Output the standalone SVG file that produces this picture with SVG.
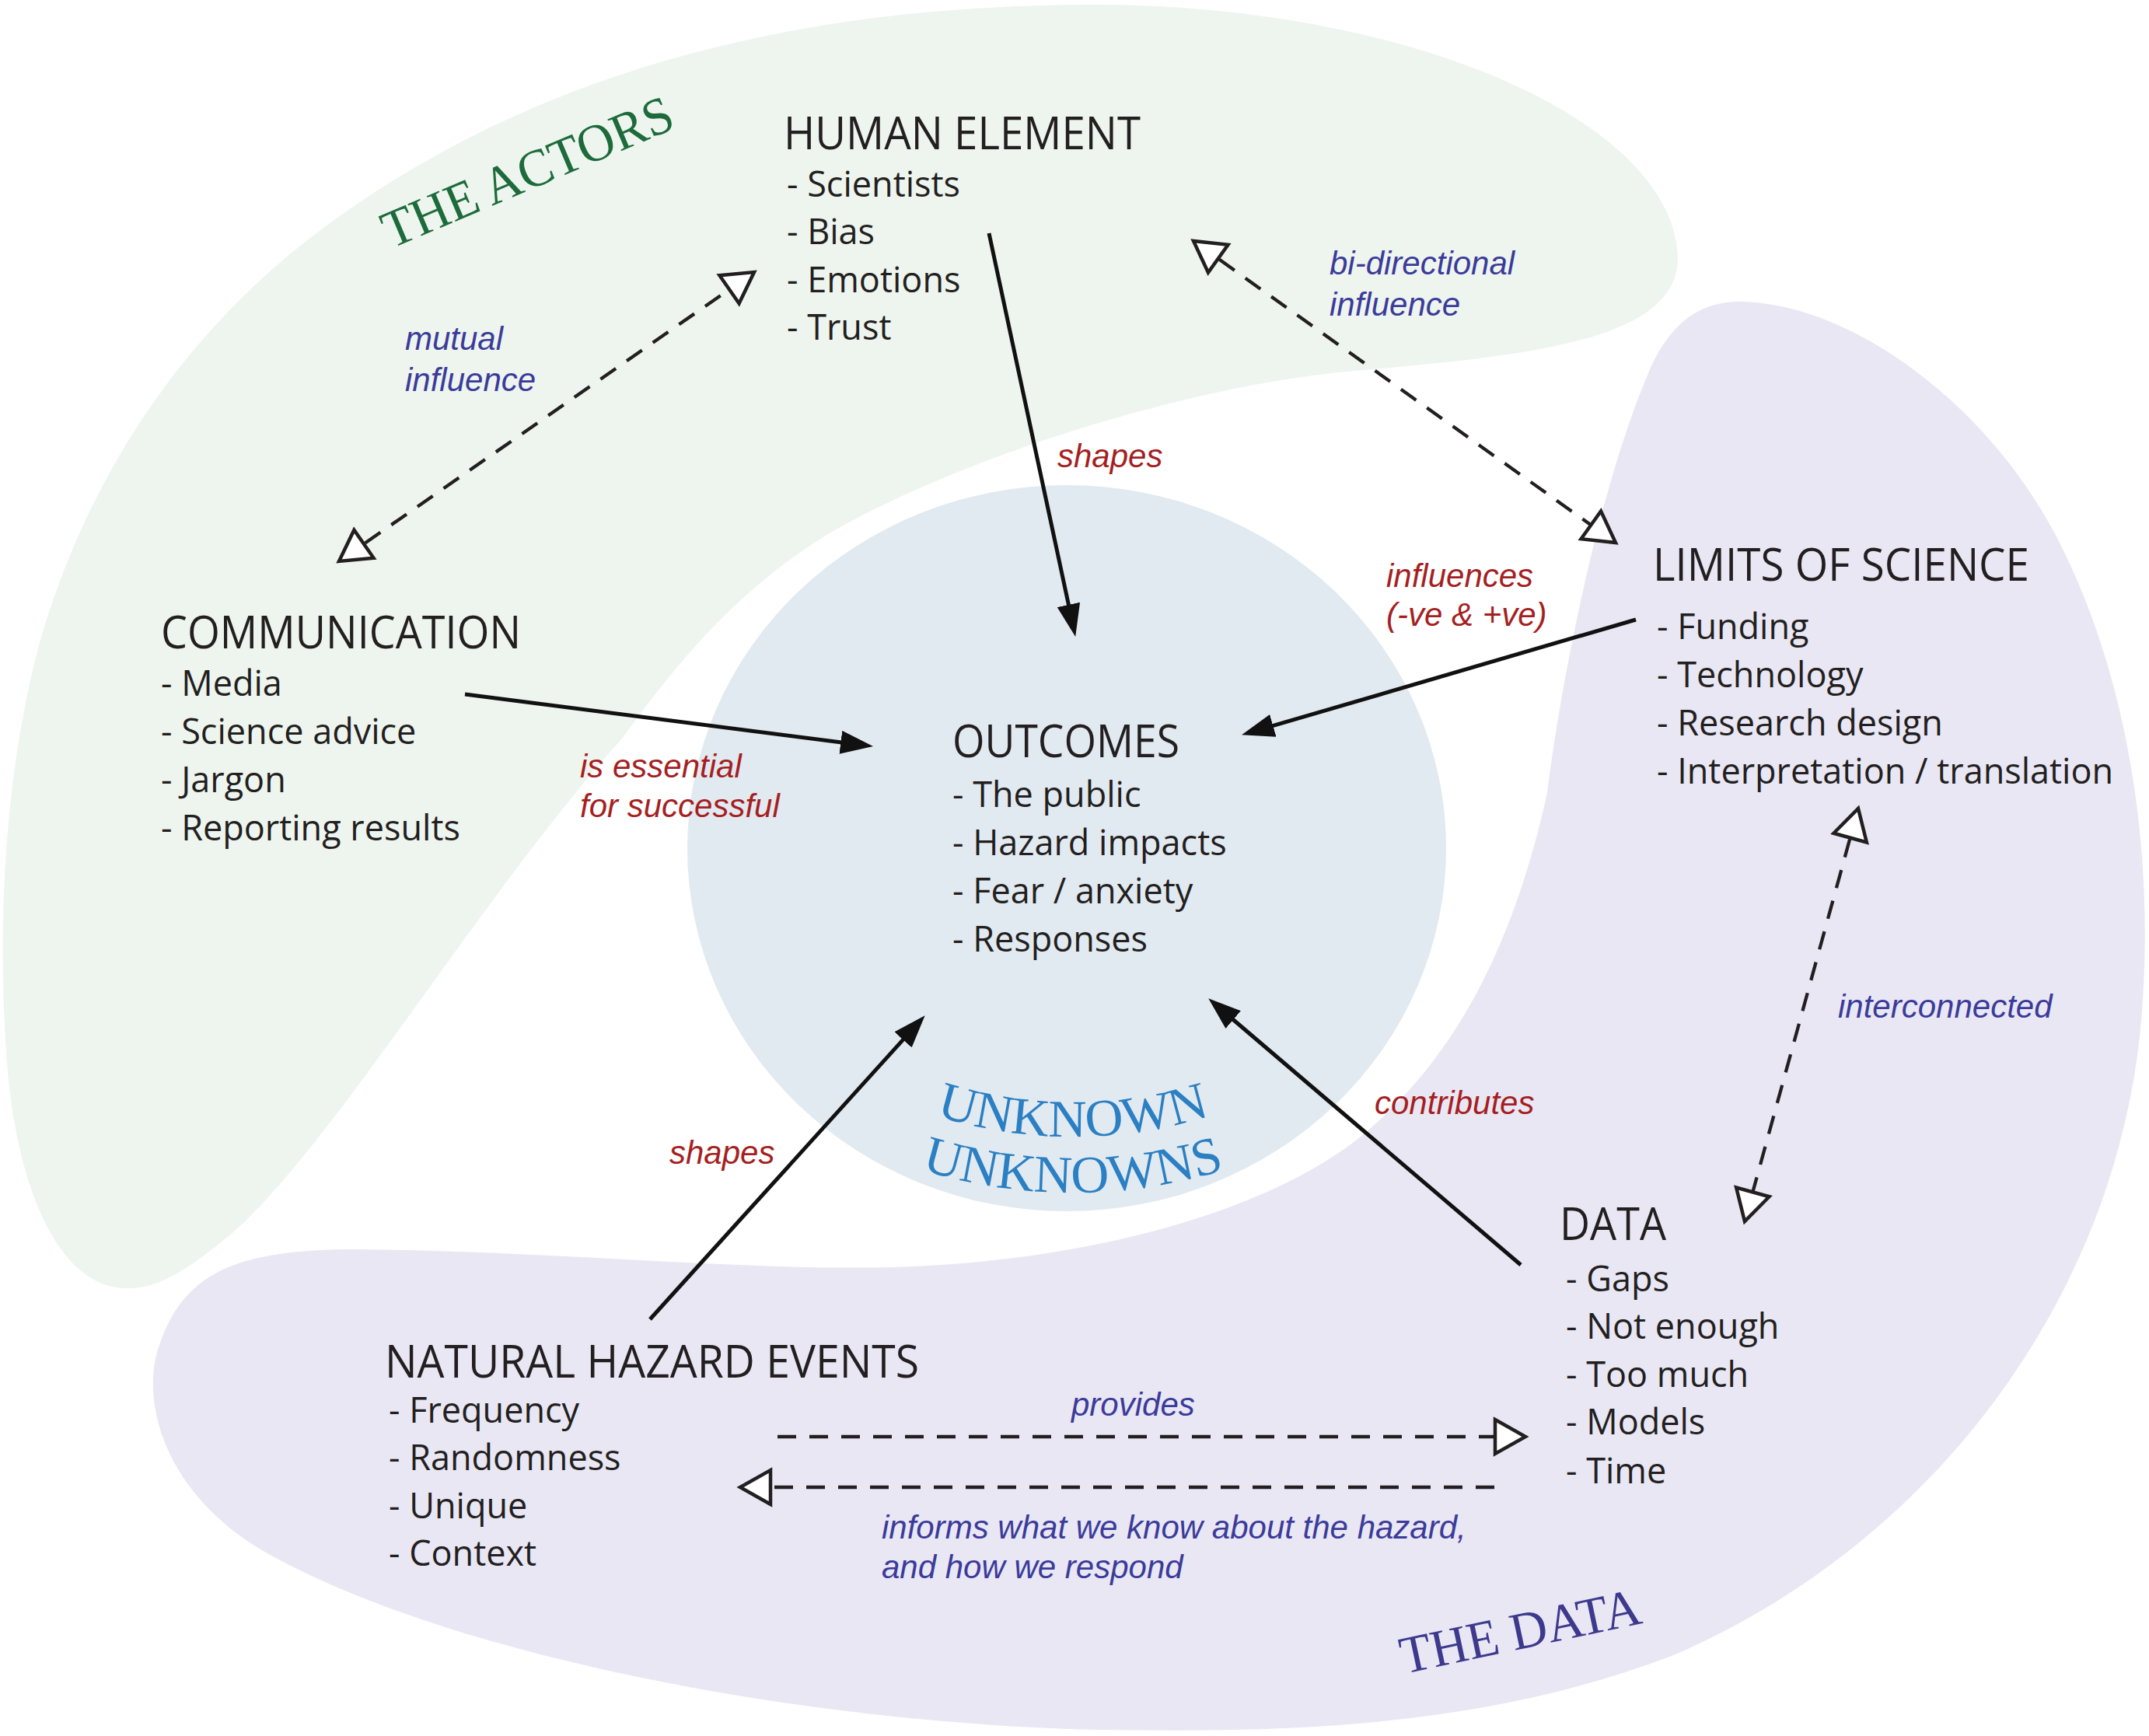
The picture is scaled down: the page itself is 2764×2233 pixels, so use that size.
<svg xmlns="http://www.w3.org/2000/svg" width="2764" height="2233" viewBox="0 0 2764 2233">
<defs>
<style>
.hd{font-family:"Open Sans","Liberation Sans",sans-serif;font-size:58px;fill:#231f20}
.it{font-family:"Open Sans","Liberation Sans",sans-serif;font-size:45px;fill:#231f20}
.lr{font-family:"Liberation Sans",Arial,sans-serif;font-style:italic;font-size:42px;fill:#a51f22}
.lb{font-family:"Liberation Sans",Arial,sans-serif;font-style:italic;font-size:42px;fill:#3b3b9a}
.ttl{font-family:"Liberation Serif","Times New Roman",serif;font-size:68px}
.solid{stroke:#111;stroke-width:5;fill:none;marker-end:url(#ah)}
.dash{stroke:#231f20;stroke-width:4.3;fill:none;stroke-dasharray:24 17}
.both{marker-start:url(#oh);marker-end:url(#oh)}
.one{marker-end:url(#oh)}
</style>
<marker id="ah" markerUnits="userSpaceOnUse" viewBox="0 0 42 30" markerWidth="42" markerHeight="30" refX="31" refY="15" orient="auto"><path d="M0,0 L42,15 L0,30 Z" fill="#111"/></marker>
<marker id="oh" markerUnits="userSpaceOnUse" viewBox="-5 -5 52 54" markerWidth="52" markerHeight="54" refX="39" refY="22" orient="auto-start-reverse"><path d="M0,0 L39,22 L0,44 Z" fill="#fff" stroke="#231f20" stroke-width="4.5"/></marker>
<path id="arcU1" d="M790,872 A590,590 0 0 0 1970,872"/>
<path id="arcU2" d="M718,872 A662,662 0 0 0 2042,872"/>
</defs>
<rect width="2764" height="2233" fill="#fff"/>

<g id="the-actors">
<path d="M1400,6 C1800,4 2150,150 2158,330 C2160,440 1960,458 1733,478 C1520,498 1230,590 1060,690 C950,760 880,840 800,950 C620,1150 430,1470 300,1585 C240,1635 200,1660 160,1657 C80,1655 25,1540 10,1380 C-5,1200 5,1000 50,830 C110,620 230,430 420,290 C680,100 1000,8 1400,6 Z" fill="#eef5ef"/>
<text class="ttl" fill="#1d6b3b" transform="translate(503,320) rotate(-23)" textLength="400" lengthAdjust="spacingAndGlyphs">THE ACTORS</text>
</g>

<g id="the-data">
<path d="M2239,388 C2380,390 2560,520 2650,700 C2740,880 2770,1100 2755,1300 C2730,1650 2500,1980 2150,2130 C1900,2225 1650,2228 1410,2225 C1000,2215 550,2120 330,1990 C210,1915 180,1800 205,1730 C235,1640 300,1608 450,1607 C700,1608 950,1635 1150,1630 C1400,1622 1620,1560 1740,1470 C1880,1360 1950,1200 1990,1020 C2010,860 2060,620 2120,480 C2150,410 2190,388 2239,388 Z" fill="#e9e7f4"/>
<text class="ttl" fill="#3d3a8e" font-size="64" transform="translate(1806,2153) rotate(-12)" textLength="315" lengthAdjust="spacingAndGlyphs">THE DATA</text>
</g>

<g id="outcomes">
<ellipse cx="1372" cy="1091" rx="488" ry="467" fill="#e2eaf1"/>
<text class="hd" x="1225" y="974" textLength="292" lengthAdjust="spacingAndGlyphs">OUTCOMES</text>
<text class="it" x="1225" y="1038">- The public</text>
<text class="it" x="1225" y="1100">- Hazard impacts</text>
<text class="it" x="1225" y="1162">- Fear / anxiety</text>
<text class="it" x="1225" y="1224">- Responses</text>
<text class="ttl" font-size="65" fill="#2b7fc3"><textPath href="#arcU1" startOffset="50%" text-anchor="middle">UNKNOWN</textPath></text>
<text class="ttl" font-size="65" fill="#2b7fc3"><textPath href="#arcU2" startOffset="50%" text-anchor="middle">UNKNOWNS</textPath></text>
</g>

<g id="connectors">
<line class="solid" x1="1272" y1="300" x2="1380.9" y2="808.2"/>
<line class="solid" x1="598" y1="893" x2="1112.1" y2="958.7"/>
<line class="solid" x1="2104" y1="797" x2="1607.6" y2="942.2"/>
<line class="solid" x1="1956" y1="1627" x2="1562.6" y2="1291.5"/>
<line class="solid" x1="836" y1="1697" x2="1182.3" y2="1314.4"/>
<line class="dash both" x1="436" y1="722" x2="970" y2="350"/>
<line class="dash both" x1="1535" y1="310" x2="2078" y2="698"/>
<line class="dash both" x1="2390" y1="1040" x2="2244" y2="1571"/>
<line class="dash one" x1="1000" y1="1848" x2="1962" y2="1848"/>
<line class="dash one" x1="1922" y1="1913" x2="952" y2="1913"/>
<text class="lr" x="1360" y="601">shapes</text>
<text class="lr" x="746" y="1000">is essential</text>
<text class="lr" x="746" y="1051">for successful</text>
<text class="lr" x="1783" y="755">influences</text>
<text class="lr" x="1783" y="805">(-ve &amp; +ve)</text>
<text class="lr" x="1768" y="1433">contributes</text>
<text class="lr" x="861" y="1497">shapes</text>
<text class="lb" x="521" y="450">mutual</text>
<text class="lb" x="521" y="503">influence</text>
<text class="lb" x="1710" y="353">bi-directional</text>
<text class="lb" x="1710" y="406">influence</text>
<text class="lb" x="2364" y="1309">interconnected</text>
<text class="lb" x="1378" y="1821">provides</text>
<text class="lb" x="1134" y="1979">informs what we know about the hazard,</text>
<text class="lb" x="1134" y="2030">and how we respond</text>
</g>

<g id="human-element">
<text class="hd" x="1008" y="192" textLength="459" lengthAdjust="spacingAndGlyphs">HUMAN ELEMENT</text>
<text class="it" x="1012" y="253">- Scientists</text>
<text class="it" x="1012" y="314">- Bias</text>
<text class="it" x="1012" y="376">- Emotions</text>
<text class="it" x="1012" y="437">- Trust</text>
</g>

<g id="communication">
<text class="hd" x="207" y="834" textLength="463" lengthAdjust="spacingAndGlyphs">COMMUNICATION</text>
<text class="it" x="207" y="895">- Media</text>
<text class="it" x="207" y="957">- Science advice</text>
<text class="it" x="207" y="1019">- Jargon</text>
<text class="it" x="207" y="1081">- Reporting results</text>
</g>

<g id="limits-of-science">
<text class="hd" x="2126" y="747" textLength="484" lengthAdjust="spacingAndGlyphs">LIMITS OF SCIENCE</text>
<text class="it" x="2131" y="822">- Funding</text>
<text class="it" x="2131" y="884">- Technology</text>
<text class="it" x="2131" y="946">- Research design</text>
<text class="it" x="2131" y="1008">- Interpretation / translation</text>
</g>

<g id="data">
<text class="hd" x="2006" y="1595" textLength="137" lengthAdjust="spacingAndGlyphs">DATA</text>
<text class="it" x="2014" y="1661">- Gaps</text>
<text class="it" x="2014" y="1722">- Not enough</text>
<text class="it" x="2014" y="1784">- Too much</text>
<text class="it" x="2014" y="1845">- Models</text>
<text class="it" x="2014" y="1908">- Time</text>
</g>

<g id="natural-hazard-events">
<text class="hd" x="495" y="1772" textLength="687" lengthAdjust="spacingAndGlyphs">NATURAL HAZARD EVENTS</text>
<text class="it" x="500" y="1830">- Frequency</text>
<text class="it" x="500" y="1891">- Randomness</text>
<text class="it" x="500" y="1953">- Unique</text>
<text class="it" x="500" y="2014">- Context</text>
</g>
</svg>
